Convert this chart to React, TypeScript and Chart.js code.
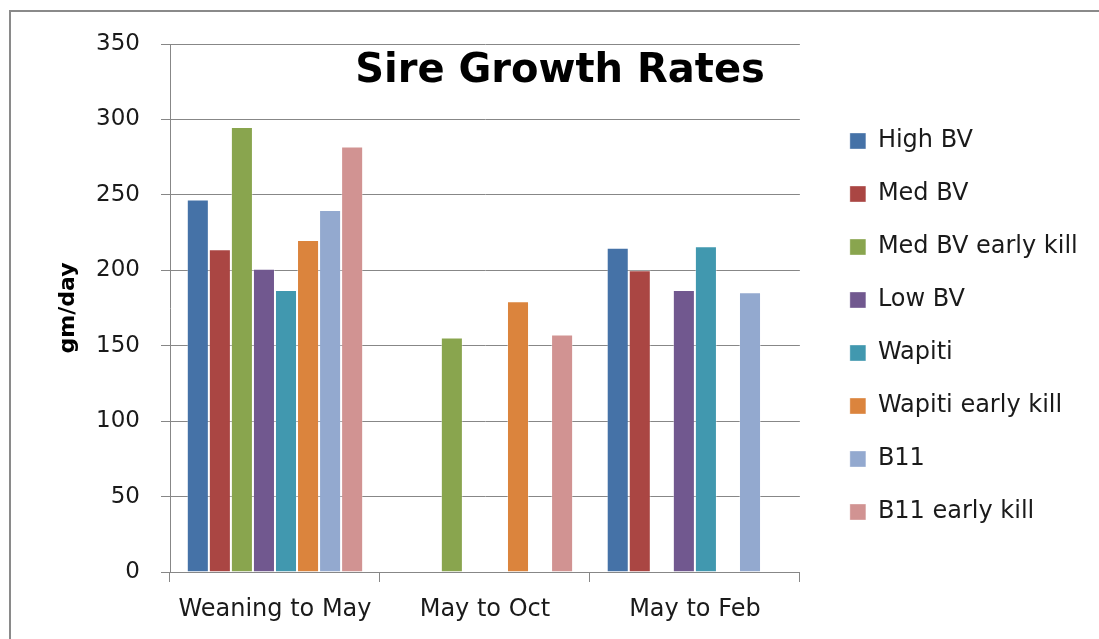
import React, { useEffect, useRef } from "react";
import { Chart, registerables } from "chart.js";

Chart.register(...registerables);

const FONT = "'DejaVu Sans', sans-serif";

const chartTitle = "Sire Growth Rates";
const yAxisTitle = "gm/day";
const categories = ["Weaning to May", "May to Oct", "May to Feb"];

const highBV = [247, null, 215];
const medBV = [214, null, 200];
const medBVEarlyKill = [295, 155.5, null];
const lowBV = [201, null, 187];
const wapiti = [187, null, 216];
const wapitiEarlyKill = [220, 179.5, null];
const b11 = [240, null, 185.5];
const b11EarlyKill = [282, 157.5, null];

const seriesNames = [
  "High BV",
  "Med BV",
  "Med BV early kill",
  "Low BV",
  "Wapiti",
  "Wapiti early kill",
  "B11",
  "B11 early kill",
];
const seriesValues = [highBV, medBV, medBVEarlyKill, lowBV, wapiti, wapitiEarlyKill, b11, b11EarlyKill];
const seriesColors = ["#4572A7", "#AA4643", "#89A54E", "#71588F", "#4198AF", "#DB843D", "#93A9CF", "#D19392"];

const yMin = 0;
const yMax = 350;
const yStep = 50;

const insideTitle = {
  id: "insideTitle",
  afterDatasetsDraw(chart: any) {
    const { ctx, chartArea } = chart;
    ctx.save();
    ctx.font = `bold 40px ${FONT}`;
    ctx.fillStyle = "#000000";
    ctx.textAlign = "center";
    ctx.textBaseline = "alphabetic";
    ctx.fillText(chartTitle, chartArea.left + 390, chartArea.top + 38);
    ctx.restore();
  },
};

const legendShift = {
  id: "legendShift",
  afterLayout(chart: any) {
    const l = chart.legend;
    if (l) {
      l.left += 21;
      l.right += 21;
      l.top -= 15;
      l.bottom -= 15;
    }
  },
};

export default function App() {
  const canvasRef = useRef<HTMLCanvasElement | null>(null);

  useEffect(() => {
    if (!canvasRef.current) return;
    const chart = new Chart(canvasRef.current, {
      type: "bar",
      data: {
        labels: categories,
        datasets: seriesNames.map((name, i) => ({
          label: name,
          data: seriesValues[i],
          backgroundColor: seriesColors[i],
          borderColor: "rgba(255,255,255,0.35)",
          borderWidth: 1,
          barPercentage: 1,
          categoryPercentage: 0.84,
        })),
      },
      options: {
        animation: false,
        responsive: true,
        maintainAspectRatio: false,
        layout: { padding: { left: 0, top: 44, right: 32.5, bottom: 0 } },
        plugins: {
          title: { display: false },
          tooltip: { enabled: false },
          legend: {
            position: "right",
            align: "center",
            labels: {
              boxWidth: 16,
              boxHeight: 16,
              padding: 29,
              color: "#1a1a1a",
              font: { family: FONT, size: 24 },
            },
          },
        },
        scales: {
          x: {
            grid: {
              display: true,
              drawOnChartArea: false,
              drawTicks: true,
              tickLength: 10,
              color: "#878787",
              offset: true,
            },
            border: { color: "#878787", width: 1 },
            ticks: {
              color: "#1a1a1a",
              font: { family: FONT, size: 24 },
              padding: 13,
              maxRotation: 0,
              autoSkip: false,
            },
            afterFit: (s: any) => {
              s.height = 67;
            },
          },
          y: {
            min: yMin,
            max: yMax,
            ticks: {
              stepSize: yStep,
              color: "#1a1a1a",
              font: { family: FONT, size: 23 },
              padding: 21,
            },
            grid: { color: "#878787", tickLength: 9, drawTicks: true },
            border: { color: "#878787", width: 1 },
            title: {
              display: true,
              text: yAxisTitle,
              color: "#000000",
              font: { family: FONT, size: 22, weight: "bold" },
              padding: { top: 55, bottom: 0 },
            },
            afterFit: (s: any) => {
              s.width = 170;
            },
          },
        },
      },
      plugins: [insideTitle, legendShift],
    });
    return () => chart.destroy();
  }, []);

  return (
    <div style={{ position: "absolute", left: 0, top: 0, width: 1099, height: 639, background: "#fff", overflow: "hidden" }}>
      <canvas ref={canvasRef} style={{ position: "absolute", left: 0, top: 0, width: 1099, height: 639 }} />
      <div style={{ position: "absolute", left: 9, top: 10, width: 1090, height: 2, background: "#8a8a8a" }} />
      <div style={{ position: "absolute", left: 9, top: 10, width: 2, height: 629, background: "#8a8a8a" }} />
    </div>
  );
}
